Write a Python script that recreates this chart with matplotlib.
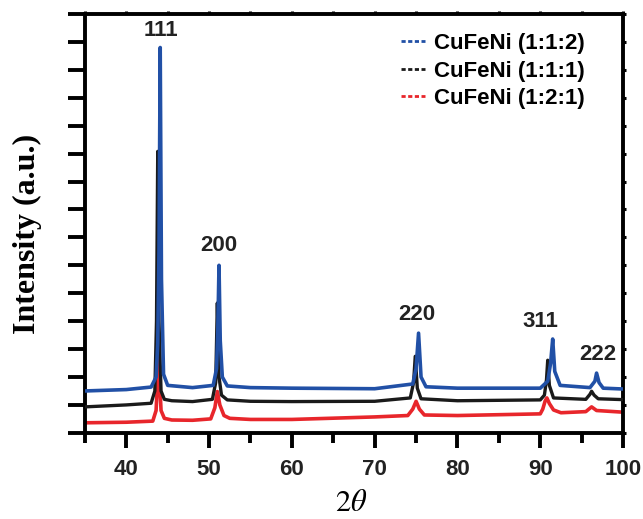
import matplotlib.pyplot as plt
from matplotlib.lines import Line2D
from matplotlib.ticker import MultipleLocator

plt.rcParams['font.family'] = ['Liberation Sans', 'DejaVu Sans']
plt.rcParams['mathtext.fontset'] = 'stix'

# XRD patterns (2theta, stacked intensity)
x_112 = [35, 40, 43.0, 43.6, 43.8, 43.95, 44.1, 44.25, 44.5, 45, 48, 50.5, 50.9, 51.05, 51.2,
         51.35, 51.6, 52.2, 55, 60, 70, 74.6, 75.0, 75.3, 75.6, 76.2, 80, 90, 90.9, 91.25,
         91.5, 91.75, 92.4, 96.0, 96.6, 96.8, 97.1, 97.6, 100]
y_112 = [1.50, 1.55, 1.64, 2.0, 3.2, 6.5, 13.8, 5.5, 2.1, 1.70, 1.62, 1.70, 2.3, 3.6, 6.0,
         3.3, 2.0, 1.68, 1.62, 1.60, 1.58, 1.75, 2.3, 3.57, 2.0, 1.65, 1.60, 1.60, 1.85, 2.5,
         3.36, 2.2, 1.70, 1.62, 1.85, 2.14, 1.8, 1.60, 1.57]

x_111 = [35, 40, 43.0, 43.45, 43.65, 43.8, 43.95, 44.2, 44.6, 45.5, 48, 50.4, 50.8, 51.0,
         51.2, 51.5, 52.2, 55, 60, 70, 74.3, 74.7, 74.9, 75.15, 75.6, 80, 90, 90.5, 90.75,
         90.9, 91.1, 91.6, 95.5, 96.0, 96.2, 96.5, 97.0, 100]
y_111 = [0.93, 1.00, 1.06, 1.5, 4.0, 10.08, 4.0, 1.5, 1.2, 1.15, 1.12, 1.20, 1.8, 4.65,
         2.0, 1.35, 1.18, 1.13, 1.12, 1.13, 1.25, 1.8, 2.74, 1.6, 1.22, 1.15, 1.18, 1.35, 1.9,
         2.6, 1.7, 1.25, 1.20, 1.38, 1.49, 1.35, 1.22, 1.19]

x_121 = [35, 40, 43.2, 43.6, 43.8, 43.9, 44.0, 44.2, 44.6, 45.5, 48, 50.2, 50.7, 51.0,
         51.3, 51.8, 52.5, 55, 60, 70, 74.0, 74.6, 75.0, 75.4, 76.0, 80, 90, 90.3, 90.6,
         90.8, 91.1, 91.6, 92.5, 95.5, 96.2, 96.8, 100]
y_121 = [0.36, 0.38, 0.42, 0.8, 2.0, 2.91, 2.0, 0.8, 0.52, 0.46, 0.45, 0.50, 0.9, 1.48,
         1.0, 0.62, 0.52, 0.48, 0.48, 0.57, 0.62, 0.85, 1.13, 0.85, 0.64, 0.62, 0.68, 0.85,
         1.15, 1.25, 1.05, 0.82, 0.72, 0.76, 0.93, 0.80, 0.74]

peak_labels = ['111', '200', '220', '311', '222']
label_x = [44.2, 51.2, 75.1, 90.0, 96.9]
label_y = [14.4, 6.72, 4.25, 3.97, 2.8]

names = ['CuFeNi (1:1:2)', 'CuFeNi (1:1:1)', 'CuFeNi (1:2:1)']
colors = ['#2150a6', '#1a1a1a', '#e8262b']

fig = plt.figure(figsize=(6.43, 5.19), dpi=100)
ax = fig.add_axes([0.132, 0.166, 0.837, 0.807])

ax.plot(x_121, y_121, color=colors[2], lw=2.6, zorder=2)
ax.plot(x_111, y_111, color=colors[1], lw=2.4, zorder=3)
ax.plot(x_112, y_112, color=colors[0], lw=2.6, zorder=4)

for lab, lx, ly in zip(peak_labels, label_x, label_y):
    ax.text(lx, ly, lab, ha='center', va='center', fontsize=16, fontweight='bold',
            color='#222222')

ax.set_xlim(35, 100)
ax.set_ylim(0, 15)

ax.xaxis.set_major_locator(MultipleLocator(10))
ax.xaxis.set_minor_locator(MultipleLocator(5))
ax.yaxis.set_major_locator(MultipleLocator(1))
ax.set_yticklabels([])

for s in ax.spines.values():
    s.set_linewidth(2.8)

ax.tick_params(axis='x', which='major', direction='out', length=11, width=2.8,
               labelsize=16, pad=8, labelcolor='#222222')
ax.tick_params(axis='x', which='minor', direction='out', length=7, width=2.8)
ax.tick_params(axis='y', which='major', direction='out', length=12, width=2.8)
for lbl in ax.get_xticklabels():
    lbl.set_fontweight('bold')

# short outer ticks on top and right
ax2 = ax.secondary_xaxis('top')
ax2.xaxis.set_major_locator(MultipleLocator(5))
ax2.tick_params(direction='out', length=2, width=2.2)
ax2.set_xticklabels([])
ax2.spines['top'].set_visible(False)
ax3 = ax.secondary_yaxis('right')
ax3.yaxis.set_major_locator(MultipleLocator(1))
ax3.tick_params(direction='out', length=2, width=2.2)
ax3.set_yticklabels([])
ax3.spines['right'].set_visible(False)

ax.set_xlabel(r'$2\theta$', fontsize=22)
ax.xaxis.label.set_va('center')
ax.xaxis.set_label_coords(0.494, -0.168)
ax.set_ylabel('Intensity (a.u.)', fontsize=23, fontweight='bold',
              family='Liberation Serif')
ax.yaxis.label.set_va('center')
ax.yaxis.set_label_coords(-0.106, 0.475)

handles = [Line2D([], [], color=c, lw=2, ls=(0, (1.5, 0.9))) for c in colors]
ax.legend(handles, names, loc='upper left', frameon=False, handlelength=1.1,
          handletextpad=0.4, labelspacing=0.3, bbox_to_anchor=(0.587, 0.955),
          borderaxespad=0, borderpad=0,
          prop={'weight': 'bold', 'size': 16})

fig.savefig('out.png', dpi=100)
